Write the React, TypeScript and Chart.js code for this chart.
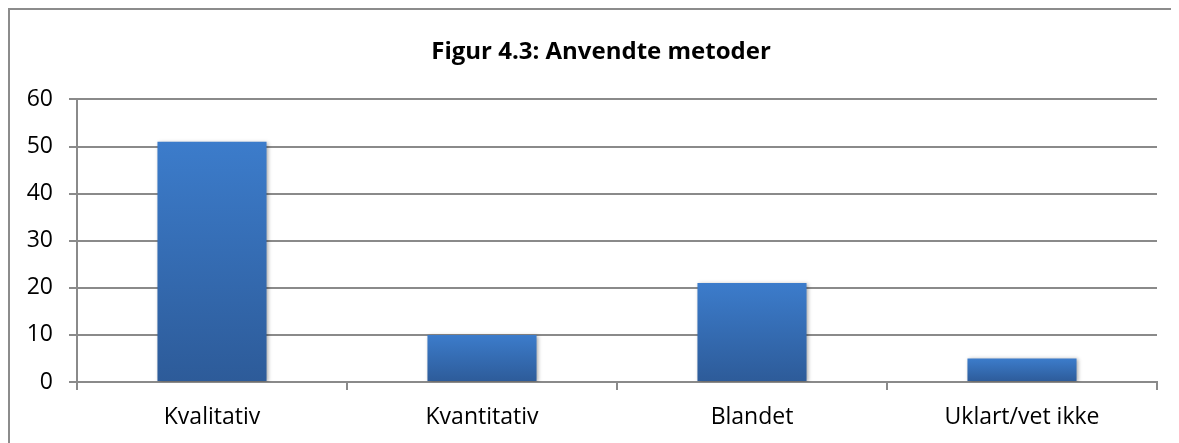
import React, { useEffect, useRef } from "react";
import { Chart, registerables } from "chart.js";

Chart.register(...registerables);

const chartTitle = "Figur 4.3: Anvendte metoder";
const categories = ["Kvalitativ", "Kvantitativ", "Blandet", "Uklart/vet ikke"];
const values = [51, 10, 21, 5];
const yTicks = [0, 10, 20, 30, 40, 50, 60];

const FONT = "'Open Sans', 'Noto Sans', sans-serif";
const GRID = "#8a8a8a";

export default function App() {
  const ref = useRef<HTMLCanvasElement>(null);

  useEffect(() => {
    document.body.style.overflow = "hidden";
    const canvas = ref.current!;
    const shadow = {
      id: "barShadow",
      beforeDatasetsDraw(chart: any) {
        const c = chart.ctx;
        c.save();
        c.shadowColor = "rgba(0,0,0,0.35)";
        c.shadowBlur = 4;
        c.shadowOffsetX = 1.5;
        c.shadowOffsetY = 1;
      },
      afterDatasetsDraw(chart: any) {
        chart.ctx.restore();
      },
    };

    const chart = new Chart(canvas, {
      type: "bar",
      data: {
        labels: categories,
        datasets: [
          {
            data: values,
            backgroundColor: (ctx: any) => {
              const ch = ctx.chart;
              if (!ch.chartArea || ctx.type !== "data") return "#3a7bcb";
              const y = ch.scales.y;
              const top = y.getPixelForValue(ctx.raw as number);
              const bottom = y.getPixelForValue(0);
              if (!isFinite(top) || !isFinite(bottom) || top === bottom) return "#3a7bcb";
              const g = ch.ctx.createLinearGradient(0, top, 0, bottom);
              g.addColorStop(0, "#3c7ccb");
              g.addColorStop(1, "#2d5b99");
              return g;
            },
            borderWidth: 0,
            categoryPercentage: 1,
            barPercentage: 0.404,
          },
        ],
      },
      options: {
        responsive: false,
        animation: false,
        devicePixelRatio: 1,
        layout: { padding: { left: 0, right: 0, top: 0, bottom: 0 } },
        plugins: {
          legend: { display: false },
          tooltip: { enabled: false },
          title: {
            display: true,
            text: chartTitle,
            color: "#000",
            font: { family: FONT, size: 24, weight: "bold", lineHeight: 1.2 },
            padding: { top: 27.5, bottom: 33.1 },
          },
        },
        scales: {
          x: {
            offset: true,
            grid: {
              display: true,
              drawOnChartArea: false,
              drawTicks: true,
              tickLength: 8,
              color: GRID,
              lineWidth: 2,
            },
            border: { display: true, color: GRID, width: 2 },
            ticks: {
              color: "#000",
              font: { family: FONT, size: 23 },
              padding: 14,
              maxRotation: 0,
            },
            afterFit: (s: any) => {
              s.height = 60;
            },
          },
          y: {
            min: 0,
            max: 60,
            grid: {
              color: GRID,
              lineWidth: 2,
              tickLength: 8,
            },
            border: { display: true, color: GRID, width: 2 },
            ticks: {
              color: "#000",
              font: { family: FONT, size: 23 },
              padding: 16,
            },
            afterBuildTicks: (s: any) => {
              s.ticks = yTicks.map((v) => ({ value: v }));
            },
            afterFit: (s: any) => {
              s.width = 67;
            },
          },
          spacer: {
            type: "linear",
            position: "right",
            display: true,
            grid: { display: false, drawTicks: false },
            border: { display: false },
            ticks: { display: false },
            afterFit: (s: any) => {
              s.width = 35;
            },
          },
        },
      },
      plugins: [shadow],
    } as any);

    return () => chart.destroy();
  }, []);

  return (
    <div
      style={{
        width: 1182,
        height: 440,
        border: "2px solid #8c8c8c",
        background: "#fff",
      }}
    >
      <canvas ref={ref} width={1182} height={432} style={{ display: "block" }} />
    </div>
  );
}
